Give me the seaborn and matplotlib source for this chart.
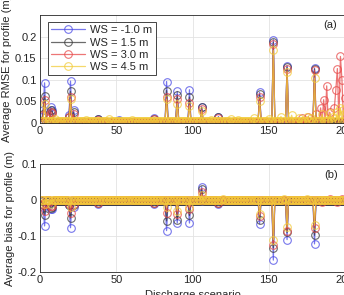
import numpy as np
import pandas as pd
import matplotlib
matplotlib.use("Agg")
import matplotlib.pyplot as plt
import seaborn as sns

sns.set_style("white")
plt.rcParams['font.family'] = ['Liberation Sans', 'DejaVu Sans']

# ---------------- data ----------------
scenarios = list(range(1, 201))
series_labels = ["WS = -1.0 m", "WS = 1.5 m", "WS = 3.0 m", "WS = 4.5 m"]
series_colors = ["#4a4ae6", "#3a3a3a", "#e84848", "#f2cc3a"]

rmse_base = [0.003, 0.003, 0.003, 0.005]
rmse_blue = {2: 0.030, 3: 0.093, 7: 0.036, 8: 0.030, 19: 0.018, 20: 0.097, 22: 0.030,
             38: 0.010, 52: 0.006, 75: 0.012, 83: 0.096, 90: 0.073, 98: 0.077, 106: 0.038,
             117: 0.015, 144: 0.071, 153: 0.193, 162: 0.133, 180: 0.127}
rmse_black = {2: 0.020, 3: 0.063, 7: 0.030, 8: 0.026, 19: 0.015, 20: 0.073, 22: 0.025,
              38: 0.009, 52: 0.005, 75: 0.010, 83: 0.075, 90: 0.065, 98: 0.060, 106: 0.036,
              117: 0.013, 144: 0.066, 153: 0.187, 162: 0.130, 180: 0.125}
rmse_red = {2: 0.018, 3: 0.053, 7: 0.026, 8: 0.022, 19: 0.014, 20: 0.061, 22: 0.020,
            38: 0.008, 75: 0.009, 83: 0.061, 90: 0.055, 98: 0.047, 106: 0.032, 117: 0.012,
            144: 0.061, 153: 0.183, 162: 0.126, 172: 0.012, 176: 0.015, 180: 0.122,
            181: 0.020, 184: 0.035, 186: 0.054, 188: 0.086, 190: 0.025, 193: 0.034,
            194: 0.077, 195: 0.126, 197: 0.154, 198: 0.100, 200: 0.058}
rmse_yellow = {3: 0.045, 10: 0.009, 20: 0.055, 30: 0.008, 45: 0.009, 60: 0.008,
               83: 0.055, 90: 0.045, 98: 0.040, 106: 0.028, 112: 0.008, 125: 0.009,
               130: 0.008, 140: 0.012, 144: 0.050, 150: 0.010, 153: 0.168, 158: 0.015,
               162: 0.119, 165: 0.018, 170: 0.012, 175: 0.015, 178: 0.012, 180: 0.104,
               185: 0.020, 190: 0.022, 192: 0.015, 195: 0.025, 197: 0.035, 199: 0.030}

bias_base = [-0.003, -0.002, -0.001, 0.0]
bias_blue = {2: -0.020, 3: -0.072, 7: -0.026, 8: -0.024, 19: -0.015, 20: -0.077, 22: -0.020,
             38: -0.010, 75: -0.010, 83: -0.085, 90: -0.064, 98: -0.064, 106: 0.037,
             117: -0.010, 144: -0.066, 153: -0.167, 162: -0.110, 180: -0.122}
bias_black = {2: -0.015, 3: -0.042, 7: -0.021, 8: -0.020, 19: -0.013, 20: -0.050, 22: -0.015,
              38: -0.009, 75: -0.009, 83: -0.058, 90: -0.055, 98: -0.043, 106: 0.030,
              117: -0.009, 144: -0.055, 153: -0.133, 162: -0.090, 180: -0.098}
bias_red = {2: -0.012, 3: -0.030, 7: -0.017, 8: -0.016, 19: -0.012, 20: -0.035, 22: -0.012,
            38: -0.008, 75: -0.008, 83: -0.035, 90: -0.040, 98: -0.026, 106: 0.022,
            117: -0.008, 144: -0.045, 153: -0.125, 162: -0.085, 180: -0.079,
            185: -0.005, 190: 0.003, 195: -0.006, 198: 0.004}
bias_yellow = {3: -0.012, 7: -0.010, 20: -0.020, 83: -0.020, 90: -0.030, 98: -0.020,
               106: 0.015, 120: 0.004, 144: -0.040, 153: -0.110, 160: 0.004, 162: -0.075,
               175: 0.003, 180: -0.070}

rmse_ticks = [0, 0.05, 0.1, 0.15, 0.2]
bias_ticks = [-0.2, -0.1, 0, 0.1]
x_ticks = [0, 50, 100, 150, 200]


def build(base, spikes):
    vals = [base] * len(scenarios)
    for k, v in spikes.items():
        vals[k - 1] = v
    return vals


rmse_series = [build(b, s) for b, s in zip(rmse_base, [rmse_blue, rmse_black, rmse_red, rmse_yellow])]
bias_series = [build(b, s) for b, s in zip(bias_base, [bias_blue, bias_black, bias_red, bias_yellow])]

# ---------------- figure ----------------
fig = plt.figure(figsize=(3.44, 2.95), dpi=100)
ax1 = fig.add_axes([40 / 344, 1 - 123 / 295, 305 / 344, 108 / 295])
ax2 = fig.add_axes([40 / 344, 1 - 272 / 295, 305 / 344, 108 / 295])

fs = 8
for ax, data in [(ax1, rmse_series), (ax2, bias_series)]:
    for vals, lab, col in zip(data, series_labels, series_colors):
        sns.lineplot(x=scenarios, y=vals, ax=ax, color=col, lw=0.9, alpha=0.75,
                     marker='o', markersize=5.5, markerfacecolor='none',
                     markeredgecolor=col, markeredgewidth=0.8, label=lab,
                     legend=False, estimator=None)
    ax.set_xlim(0, 200)
    ax.set_xticks(x_ticks)
    ax.grid(True, color='#e3e3e3', lw=0.6)
    ax.set_axisbelow(True)
    ax.tick_params(direction='in', labelsize=fs, length=2.5, width=0.6, pad=2.5,
                   colors='#262626')
    for sp in ax.spines.values():
        sp.set_color('#262626')
        sp.set_linewidth(0.6)

ax1.set_ylim(0, 0.25)
ax1.set_yticks(rmse_ticks)
ax1.set_yticklabels(["0", "0.05", "0.1", "0.15", "0.2"])
ax1.set_ylabel("Average RMSE for profile (m)", fontsize=fs, labelpad=2, color='#262626')
ax2.set_ylim(-0.2, 0.1)
ax2.set_yticks(bias_ticks)
ax2.set_yticklabels(["-0.2", "-0.1", "0", "0.1"])
ax2.set_ylabel("Average bias for profile (m)", fontsize=fs, labelpad=2, color='#262626')
ax2.set_xlabel("Discharge scenario", fontsize=fs, labelpad=3, color='#262626')

ax1.text(330 / 344, 1 - 25 / 295, "(a)", transform=fig.transFigure, fontsize=fs,
         ha='center', va='center', color='#262626')
ax2.text(331 / 344, 1 - 175 / 295, "(b)", transform=fig.transFigure, fontsize=fs,
         ha='center', va='center', color='#262626')

leg = ax1.legend(loc='upper left', bbox_to_anchor=(48 / 344, 1 - 22 / 295),
                 bbox_transform=fig.transFigure, fontsize=fs, frameon=True,
                 fancybox=False, edgecolor='#262626', framealpha=1,
                 handlelength=3.0, handletextpad=0.5, labelspacing=0.2,
                 borderpad=0.3, borderaxespad=0)
leg.get_frame().set_linewidth(0.6)

fig.savefig("out.png", dpi=100)
